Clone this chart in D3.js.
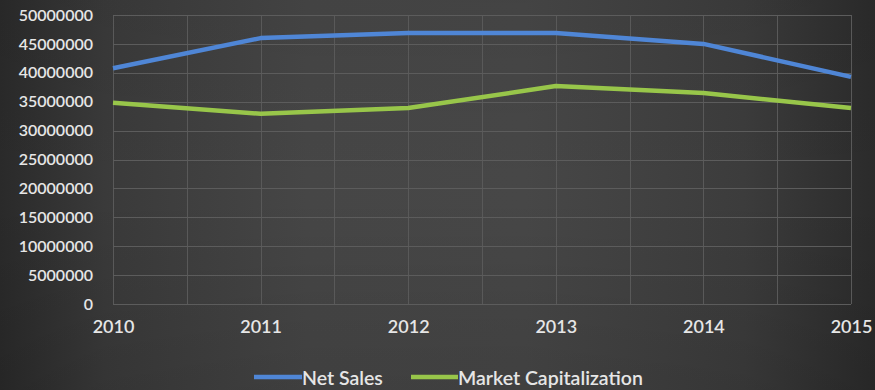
<!DOCTYPE html>
<html><head><meta charset="utf-8">
<script src="https://cdn.jsdelivr.net/npm/d3@7"></script>
<style>html,body{margin:0;padding:0;background:#333;}svg{display:block;}</style>
</head><body>
<script>
const years = [2010, 2011, 2012, 2013, 2014, 2015];
const netSales = [40800000, 46000000, 46900000, 46900000, 45000000, 39300000];
const marketCap = [34800000, 32900000, 33900000, 37700000, 36500000, 33900000];
const yTicks = [0,5000000,10000000,15000000,20000000,25000000,30000000,35000000,40000000,45000000,50000000];
const seriesNames = ["Net Sales", "Market Capitalization"];
const colors = ["#4f86d6", "#98c64a"];

const W = 875, H = 390;
const svg = d3.select("body").append("svg").attr("width", W).attr("height", H);
const defs = svg.append("defs");
const lg = defs.append("linearGradient").attr("id","bg").attr("x1","0").attr("x2","1").attr("y1","0").attr("y2","0");
[["0%","#2a2a2a"],["12%","#3a3a3a"],["35%","#464646"],["60%","#474747"],["85%","#3c3c3c"],["100%","#2b2b2b"]]
  .forEach(s => lg.append("stop").attr("offset", s[0]).attr("stop-color", s[1]));
const vg = defs.append("linearGradient").attr("id","shade").attr("x1","0").attr("x2","0").attr("y1","0").attr("y2","1");
vg.append("stop").attr("offset","0%").attr("stop-color","#000").attr("stop-opacity",0.05);
vg.append("stop").attr("offset","50%").attr("stop-color","#000").attr("stop-opacity",0);
vg.append("stop").attr("offset","100%").attr("stop-color","#000").attr("stop-opacity",0.1);
svg.append("rect").attr("width",W).attr("height",H).attr("fill","url(#bg)");
svg.append("rect").attr("width",W).attr("height",H).attr("fill","url(#shade)");

const x = d3.scaleLinear().domain([2010, 2015]).range([113, 851]);
const y = d3.scaleLinear().domain([0, 50000000]).range([304, 15]);

const font = "Lato, 'Open Sans', sans-serif";
const g = svg.append("g");
const halfTicks = d3.range(2010, 2015.01, 0.5);
g.selectAll("line.v").data(halfTicks).enter().append("line")
  .attr("x1", d => Math.round(x(d))+0.5).attr("x2", d => Math.round(x(d))+0.5)
  .attr("y1", y(50000000)).attr("y2", y(0))
  .attr("stroke", "#595959").attr("stroke-width", 1);
g.selectAll("line.h").data(yTicks).enter().append("line")
  .attr("x1", x(2010)).attr("x2", x(2015))
  .attr("y1", d => Math.round(y(d))+0.5).attr("y2", d => Math.round(y(d))+0.5)
  .attr("stroke", "#5c5c5c").attr("stroke-width", 1);

const yAxis = d3.axisLeft(y).tickValues(yTicks).tickSize(0).tickPadding(0).tickFormat(d => String(d));
const ya = svg.append("g").attr("transform", "translate(93,0)").call(yAxis);
ya.select(".domain").remove();
ya.selectAll("text").attr("fill", "#e6e6e6").style("font-family", font).style("font-size", "16px").style("font-weight", "600");

const xAxis = d3.axisBottom(x).tickValues(years).tickSize(0).tickPadding(0).tickFormat(d3.format("d"));
const xa = svg.append("g").attr("transform", "translate(0,320)").call(xAxis);
xa.select(".domain").remove();
xa.selectAll("text").attr("fill", "#e6e6e6").style("font-family", font).style("font-size", "18px").style("font-weight", "600");

const line = d3.line().x((d,i) => x(years[i])).y(d => y(d)).curve(d3.curveLinear);
[netSales, marketCap].forEach((s, k) => {
  svg.append("path").datum(s).attr("d", line).attr("fill","none")
    .attr("stroke", colors[k]).attr("stroke-width", 4.5)
    .attr("stroke-linejoin","round").attr("stroke-linecap","butt");
});

const legendItems = [{x1:254, x2:302, tx:302}, {x1:411, x2:458, tx:458}];
legendItems.forEach((it, k) => {
  svg.append("line").attr("x1", it.x1).attr("x2", it.x2).attr("y1", 377).attr("y2", 377)
    .attr("stroke", colors[k]).attr("stroke-width", 4.5);
  svg.append("text").attr("x", it.tx).attr("y", 385).text(seriesNames[k])
    .attr("fill", "#e6e6e6").style("font-family", font).style("font-size", "19.5px").style("font-weight", "600");
});
</script>
</body></html>
